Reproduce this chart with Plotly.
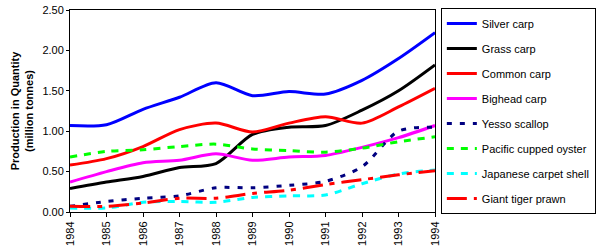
import plotly.graph_objects as go

years = [1984, 1985, 1986, 1987, 1988, 1989, 1990, 1991, 1992, 1993, 1994]
silver_carp = [1.07, 1.08, 1.27, 1.42, 1.60, 1.44, 1.49, 1.46, 1.63, 1.90, 2.22]
grass_carp = [0.29, 0.37, 0.44, 0.55, 0.60, 0.96, 1.05, 1.07, 1.26, 1.50, 1.82]
common_carp = [0.58, 0.66, 0.81, 1.02, 1.10, 0.99, 1.10, 1.18, 1.10, 1.30, 1.53]
bighead_carp = [0.37, 0.50, 0.61, 0.64, 0.72, 0.64, 0.68, 0.70, 0.80, 0.92, 1.07]
yesso_scallop = [0.07, 0.13, 0.17, 0.20, 0.30, 0.30, 0.33, 0.38, 0.56, 1.00, 1.05]
pacific_oyster = [0.68, 0.75, 0.77, 0.81, 0.84, 0.78, 0.76, 0.74, 0.79, 0.87, 0.93]
carpet_shell = [0.05, 0.05, 0.12, 0.13, 0.12, 0.18, 0.20, 0.21, 0.35, 0.47, 0.52]
tiger_prawn = [0.07, 0.07, 0.11, 0.17, 0.17, 0.23, 0.27, 0.34, 0.40, 0.46, 0.51]

series = [
    ("Silver carp", silver_carp, "#0000FF", "solid"),
    ("Grass carp", grass_carp, "#000000", "solid"),
    ("Common carp", common_carp, "#FF0000", "solid"),
    ("Bighead carp", bighead_carp, "#FF00FF", "solid"),
    ("Yesso scallop", yesso_scallop, "#000080", "5px,8px"),
    ("Pacific cupped oyster", pacific_oyster, "#00FF00", "7px,7px"),
    ("Japanese carpet shell", carpet_shell, "#00FFFF", "7px,7px"),
    ("Giant tiger prawn", tiger_prawn, "#FF0000", "20px,7px,5px,7px"),
]

fig = go.Figure()
for name, vals, color, dash in series:
    fig.add_trace(go.Scatter(
        x=years, y=vals, name=name, mode="lines", legendgroup=name,
        line=dict(color=color, width=3, dash=dash, shape="spline", smoothing=0.8),
    ))

font = "Liberation Sans, Arial, sans-serif"
fig.update_layout(
    width=615, height=247,
    margin=dict(l=70, r=180, t=9, b=35),
    plot_bgcolor="white", paper_bgcolor="white",
    font=dict(family=font, size=11, color="black"),
    legend=dict(
        x=1.016, y=1.005, xanchor="left", yanchor="top",
        bordercolor="black", borderwidth=1, bgcolor="white",
        font=dict(size=11), tracegroupgap=6, maxheight=240,
    ),
    xaxis=dict(
        range=[1984, 1994], tickvals=years, ticktext=[str(y) for y in years],
        tickangle=-90, showgrid=False, zeroline=False, automargin=False,
        showline=True, linecolor="black", linewidth=1, mirror=True,
        ticks="outside", ticklen=4, tickcolor="black",
    ),
    yaxis=dict(
        range=[0, 2.5], tickvals=[0, 0.5, 1.0, 1.5, 2.0, 2.5], tickformat=".2f",
        showgrid=False, zeroline=False, automargin=False,
        showline=True, linecolor="black", linewidth=1, mirror=True,
        ticks="outside", ticklen=3, tickcolor="black",
        title=dict(text="<b>Production in Quantity<br>(million tonnes)</b>",
                   font=dict(size=11), standoff=6),
    ),
)
fig.write_html("out.html")
